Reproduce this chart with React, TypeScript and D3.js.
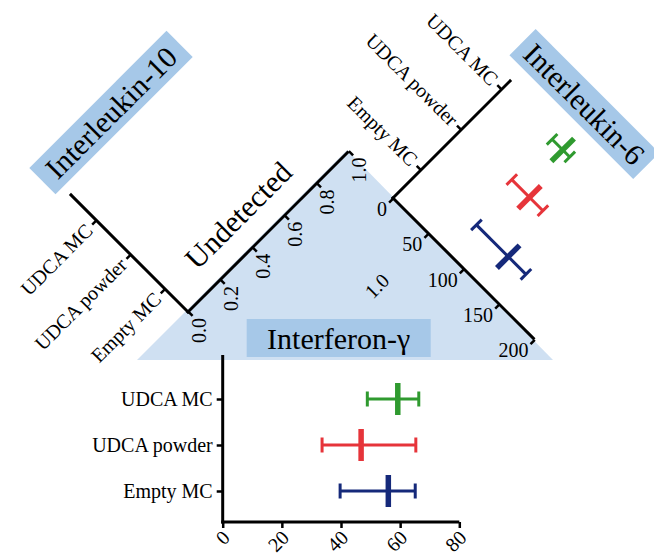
import React, { useEffect, useRef } from 'react';
import * as d3 from 'd3';

// groups, bottom to top on every category axis
const categories = ['Empty MC', 'UDCA powder', 'UDCA MC'];
const groupColors = ['#15297a', '#e6343a', '#2f9a2f'];

// Interferon-γ: mean and error bar ends
const ifnMean = [56.0, 46.8, 59.2];
const ifnLow = [39.7, 33.6, 48.9];
const ifnHigh = [65.1, 65.3, 66.3];
const ifnTicks = [0, 20, 40, 60, 80];

// Interleukin-6
const il6Mean = [123, 96, 86];
const il6Low = [78, 71, 71];
const il6High = [148, 115, 96];
const il6Ticks = [0, 50, 100, 150, 200];

// Interleukin-10 (nothing detected)
const il10Ticks = [0, 0.2, 0.4, 0.6, 0.8, 1.0];

const W = 654;
const H = 556;
const FONT = '"Liberation Serif", "Times New Roman", serif';

type Panel = {
    ox: number; oy: number; angle: number;
    len: number; domain: [number, number]; ticks: number[];
    fmt: (d: number) => string;
    catLen: number; catRange: [number, number];
    mean?: number[]; low?: number[]; high?: number[];
};

const drawPanel = (svg: any, p: Panel) => {
    const g = svg.append('g')
        .attr('transform', `translate(${p.ox},${p.oy}) rotate(${p.angle})`);

    const x = d3.scaleLinear().domain(p.domain).range([0, p.len]);
    const y = d3.scalePoint<string>().domain(categories).range([-p.catRange[0], -p.catRange[1]]);

    // value axis
    const xa = g.append('g')
        .call(d3.axisBottom(x).tickValues(p.ticks).tickFormat(p.fmt as any).tickSize(6).tickSizeOuter(0));
    xa.select('.domain').attr('stroke-width', 3).attr('d', `M-1.5,0H${p.len}`);
    xa.selectAll('.tick line').attr('stroke-width', 2.5);
    xa.selectAll('.tick text')
        .attr('x', null).attr('y', null).attr('dy', '0.35em')
        .attr('text-anchor', 'end')
        .attr('transform', 'translate(3,12) rotate(-45)')
        .style('font-size', '20px').style('font-family', FONT).attr('fill', '#000');

    // category axis
    const ya = g.append('g').call(d3.axisLeft(y).tickSize(6).tickSizeOuter(0));
    ya.select('.domain').remove();
    ya.selectAll('.tick line').attr('stroke-width', 2.5);
    ya.selectAll('.tick text')
        .attr('x', -10)
        .style('font-size', '20px').style('font-family', FONT).attr('fill', '#000');
    g.append('line')
        .attr('x1', 0).attr('x2', 0).attr('y1', 1.5).attr('y2', -p.catLen)
        .attr('stroke', '#000').attr('stroke-width', 3);

    if (!p.mean) return g;

    // mean with error bars
    categories.forEach((c, i) => {
        const yc = y(c) as number;
        const col = groupColors[i];
        const lo = x(p.low![i]);
        const hi = x(p.high![i]);
        const m = x(p.mean![i]);
        g.append('line').attr('x1', lo).attr('x2', hi).attr('y1', yc).attr('y2', yc)
            .attr('stroke', col).attr('stroke-width', 3);
        [lo, hi].forEach(e => {
            g.append('line').attr('x1', e).attr('x2', e).attr('y1', yc - 7.5).attr('y2', yc + 7.5)
                .attr('stroke', col).attr('stroke-width', 3);
        });
        g.append('line').attr('x1', m).attr('x2', m).attr('y1', yc - 16).attr('y2', yc + 16)
            .attr('stroke', col).attr('stroke-width', 5.5);
    });
    return g;
};

const labelBox = (svg: any, cx: number, cy: number, w: number, h: number, angle: number, text: string) => {
    const g = svg.append('g').attr('transform', `translate(${cx},${cy}) rotate(${angle})`);
    g.append('rect').attr('x', -w / 2).attr('y', -h / 2).attr('width', w).attr('height', h)
        .attr('fill', '#a6c8e8');
    g.append('text').attr('text-anchor', 'middle').attr('dy', '0.35em')
        .style('font-size', '30px').style('font-family', FONT).text(text);
};

const App = () => {
    const svgRef = useRef<SVGSVGElement | null>(null);

    useEffect(() => {
        const svg = d3.select(svgRef.current);
        svg.selectAll('*').remove();

        // light triangle behind the panels
        svg.append('path')
            .attr('d', d3.line()([[137, 360], [347, 150], [553, 360]]) + 'Z')
            .attr('fill', '#cfe0f2');

        labelBox(svg, 338.7, 338, 184, 38, 0, 'Interferon-γ');
        labelBox(svg, 111, 112.5, 194, 37, -45, 'Interleukin-10');
        labelBox(svg, 584.4, 104, 175, 37, 45, 'Interleukin-6');

        const fmtInt = d3.format('d');

        drawPanel(svg, {
            ox: 222.7, oy: 522, angle: 0, len: 236.6, domain: [0, 80], ticks: ifnTicks,
            fmt: fmtInt, catLen: 167, catRange: [31, 123],
            mean: ifnMean, low: ifnLow, high: ifnHigh,
        });

        drawPanel(svg, {
            ox: 393, oy: 198, angle: 45, len: 200, domain: [0, 200], ticks: il6Ticks,
            fmt: fmtInt, catLen: 167, catRange: [40, 154],
            mean: il6Mean, low: il6Low, high: il6High,
        });

        const left = drawPanel(svg, {
            ox: 188, oy: 312, angle: -45, len: 227, domain: [0, 1], ticks: il10Ticks,
            fmt: d3.format('.1f'), catLen: 167, catRange: [33, 130],
        });
        left.append('text').attr('x', 104).attr('y', -33).attr('dy', '0.35em')
            .attr('text-anchor', 'middle')
            .style('font-size', '30px').style('font-family', FONT).text('Undetected');
        left.append('text').attr('x', 152).attr('y', 115).attr('dy', '0.35em')
            .attr('text-anchor', 'middle')
            .style('font-size', '20px').style('font-family', FONT).text('1.0');
    }, []);

    return (
        <svg ref={svgRef} width={W} height={H}
            style={{ position: 'absolute', left: 0, top: 0, background: '#fff' }} />
    );
};

export default App;
